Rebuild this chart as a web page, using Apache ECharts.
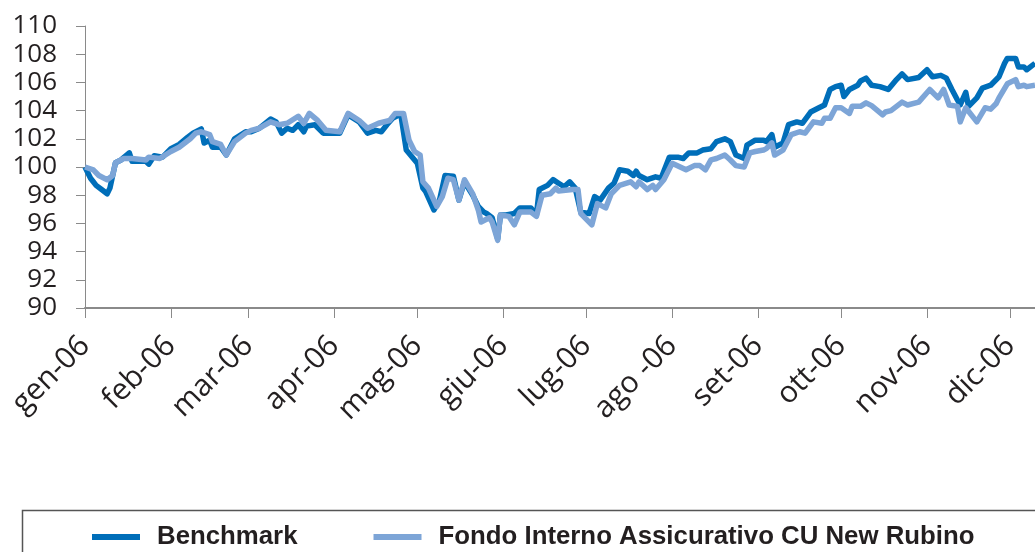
<!DOCTYPE html>
<html>
<head>
<meta charset="utf-8">
<script src="https://cdn.jsdelivr.net/npm/echarts@6/dist/echarts.min.js"></script>
<style>
  html, body { margin: 0; padding: 0; background: #fff; }
  #chart { width: 1035px; height: 552px; }
</style>
</head>
<body>
<div id="chart"></div>
<script>
// etichette dei mesi (asse x)
var monthLabels = ['gen-06', 'feb-06', 'mar-06', 'apr-06', 'mag-06', 'giu-06',
  'lug-06', 'ago -06', 'set-06', 'ott-06', 'nov-06', 'dic-06'];

// Benchmark: giorno dell'anno (0 = 1 gen) e valore
var benchDay = [0, 2, 3, 4, 6, 8, 9, 11, 13, 16, 17, 22, 23, 25, 28, 31, 34, 37, 39, 42,
  43, 45, 46, 49, 51, 54, 58, 60, 63, 67, 69, 71, 73, 75, 77, 79, 80, 83, 86, 92,
  95, 99, 102, 105, 107, 109, 111, 114, 116, 119, 120, 122, 123, 126, 128, 130, 133, 135, 137, 140,
  142, 144, 145, 147, 149, 150, 152, 155, 157, 161, 163, 164, 167, 169, 171, 173, 175, 177, 179, 182,
  184, 186, 189, 191, 193, 196, 198, 199, 200, 203, 206, 208, 211, 214, 216, 218, 221, 223, 226, 228,
  231, 233, 235, 238, 239, 242, 245, 246, 248, 249, 252, 254, 257, 259, 262, 265, 267, 269, 271, 273,
  274, 276, 279, 280, 282, 284, 287, 290, 293, 295, 297, 301, 304, 306, 309, 311, 313, 315, 316, 318,
  319, 322, 324, 327, 330, 332, 333, 336, 337, 339, 340, 343];
var benchVal = [100.0, 99.2, 98.95, 98.7, 98.4, 98.1, 98.5, 100.3, 100.5, 101.0, 100.4, 100.4, 100.2, 100.8, 100.7, 101.3, 101.6, 102.1, 102.4, 102.7,
  101.7, 101.9, 101.4, 101.4, 100.85, 102.0, 102.5, 102.5, 102.75, 103.4, 103.2, 102.4, 102.75, 102.6, 103.0, 102.5, 102.9, 103.0, 102.4, 102.4,
  103.7, 103.2, 102.4, 102.6, 102.5, 103.0, 103.45, 103.75, 101.2, 100.5, 100.26, 98.5, 98.25, 96.95, 97.65, 99.4, 99.35, 97.65, 98.95, 98.0,
  97.2, 96.8, 96.7, 96.4, 94.9, 96.6, 96.6, 96.7, 97.1, 97.1, 96.6, 98.4, 98.7, 99.1, 98.85, 98.6, 98.95, 98.5, 96.8, 96.7,
  97.9, 97.65, 98.5, 98.85, 99.8, 99.7, 99.4, 99.7, 99.4, 99.1, 99.3, 99.2, 100.7, 100.7, 100.6, 101.0, 101.0, 101.2, 101.3, 101.8,
  102.0, 101.8, 100.85, 100.6, 101.55, 101.9, 101.9, 101.8, 102.3, 101.4, 101.7, 103.0, 103.2, 103.1, 103.9, 104.2, 104.4, 105.5, 105.7, 105.8,
  105.0, 105.5, 105.8, 106.1, 106.3, 105.8, 105.7, 105.5, 106.2, 106.6, 106.2, 106.35, 106.9, 106.4, 106.5, 106.3, 105.5, 104.75, 104.4, 105.3,
  104.3, 104.9, 105.6, 105.8, 106.4, 107.35, 107.7, 107.7, 107.1, 107.1, 106.9, 107.35];

// Fondo Interno Assicurativo CU New Rubino
var fondoDay = [0, 3, 5, 8, 10, 11, 14, 17, 22, 23, 27, 31, 34, 38, 40, 42, 45, 46, 49, 51,
  54, 58, 60, 63, 67, 70, 73, 77, 79, 81, 84, 87, 92, 95, 99, 102, 106, 110, 112, 115,
  117, 119, 121, 122, 124, 127, 129, 131, 133, 135, 137, 140, 142, 143, 146, 147, 149, 150, 153, 155,
  157, 161, 163, 165, 168, 170, 171, 176, 178, 179, 183, 185, 188, 190, 193, 197, 199, 200, 203, 205,
  206, 209, 212, 217, 220, 222, 224, 226, 228, 231, 233, 235, 238, 240, 242, 245, 246, 248, 249, 252,
  255, 258, 260, 263, 266, 267, 269, 271, 273, 276, 277, 280, 282, 284, 288, 289, 291, 295, 297, 301,
  305, 308, 310, 312, 315, 316, 318, 322, 325, 327, 329, 330, 333, 336, 337, 339, 340, 343];
var fondoVal = [100.0, 99.8, 99.4, 99.1, 99.4, 100.3, 100.6, 100.6, 100.5, 100.7, 100.6, 101.1, 101.4, 102.0, 102.4, 102.5, 102.3, 101.8, 101.6, 100.85,
  101.8, 102.4, 102.6, 102.75, 103.2, 103.0, 103.1, 103.6, 103.1, 103.8, 103.3, 102.6, 102.5, 103.8, 103.3, 102.75, 103.1, 103.3, 103.8, 103.8,
  101.9, 101.1, 100.85, 98.95, 98.5, 97.2, 97.9, 99.2, 99.1, 97.65, 99.1, 98.1, 96.95, 96.1, 96.4, 96.1, 94.8, 96.6, 96.5, 95.9,
  96.8, 96.8, 96.5, 98.0, 98.1, 98.5, 98.3, 98.4, 98.4, 96.7, 95.9, 97.4, 97.1, 98.1, 98.7, 98.95, 98.6, 98.95, 98.4, 98.7,
  98.4, 99.1, 100.26, 99.8, 100.1, 100.1, 99.8, 100.5, 100.6, 100.85, 100.5, 100.1, 100.0, 101.0, 101.1, 101.2, 101.3, 101.7, 100.85, 101.2,
  102.3, 102.5, 102.4, 103.2, 103.1, 103.45, 103.45, 104.2, 104.2, 103.8, 104.3, 104.3, 104.55, 104.35, 103.7, 103.9, 104.0, 104.6, 104.4, 104.6,
  105.5, 104.9, 105.5, 104.4, 104.3, 103.2, 104.2, 103.2, 104.2, 104.1, 104.5, 104.9, 105.9, 106.2, 105.7, 105.8, 105.7, 105.8];

// categorie giornaliere 1 gen - 10 dic 2006
var days = [];
for (var t = Date.UTC(2006, 0, 1); t <= Date.UTC(2006, 11, 10); t += 86400000) {
  days.push(new Date(t).toISOString().slice(0, 10));
}

function pairs(xs, ys) {
  return xs.map(function (x, i) { return [x, ys[i]]; });
}
function isMonthStart(idx, val) {
  return val.slice(8) === '01';
}

var chart = echarts.init(document.getElementById('chart'), null, { renderer: 'canvas' });
chart.setOption({
  animation: false,
  grid: { left: 85, right: 0, top: 26, bottom: 244, containLabel: false },
  xAxis: {
    type: 'category',
    data: days,
    boundaryGap: false,
    axisLine: { lineStyle: { color: '#8a8a8a', width: 2 } },
    axisTick: { interval: isMonthStart, length: 10, lineStyle: { color: '#8a8a8a', width: 1 } },
    axisLabel: {
      interval: isMonthStart,
      rotate: 45,
      margin: 33,
      fontFamily: 'Open Sans',
      fontSize: 30,
      color: '#231f20',
      formatter: function (val) { return monthLabels[parseInt(val.slice(5, 7), 10) - 1]; }
    },
    splitLine: { show: false }
  },
  yAxis: {
    type: 'value',
    min: 90,
    max: 110,
    interval: 2,
    axisLine: { show: true, lineStyle: { color: '#8a8a8a', width: 1 } },
    axisTick: { show: true, length: 9, lineStyle: { color: '#8a8a8a' } },
    axisLabel: { margin: 28, fontFamily: 'Open Sans', fontSize: 26, color: '#231f20' },
    splitLine: { show: false }
  },
  // riquadro della legenda (esce dal bordo destro e inferiore)
  graphic: [{
    type: 'rect',
    left: 20,
    top: 508,
    shape: { width: 1100, height: 100 },
    style: { fill: 'none', stroke: '#555', lineWidth: 1.5 }
  }],
  legend: {
    left: 92,
    top: 524,
    padding: 0,
    itemWidth: 48,
    itemHeight: 6,
    itemGap: 76,
    icon: 'rect',
    textStyle: { fontFamily: 'Liberation Sans', fontWeight: 'bold', fontSize: 25.8, color: '#231f20', padding: [0, 0, 0, 12] },
    data: ['Benchmark', 'Fondo Interno Assicurativo CU New Rubino']
  },
  series: [
    {
      name: 'Benchmark',
      type: 'line',
      data: pairs(benchDay, benchVal),
      showSymbol: false,
      color: '#006eb9',
      lineStyle: { width: 5.5, color: '#006eb9', join: 'round' }
    },
    {
      name: 'Fondo Interno Assicurativo CU New Rubino',
      type: 'line',
      data: pairs(fondoDay, fondoVal),
      showSymbol: false,
      color: '#7da5d7',
      lineStyle: { width: 5.5, color: '#7da5d7', join: 'round' }
    }
  ]
});
</script>
</body>
</html>
